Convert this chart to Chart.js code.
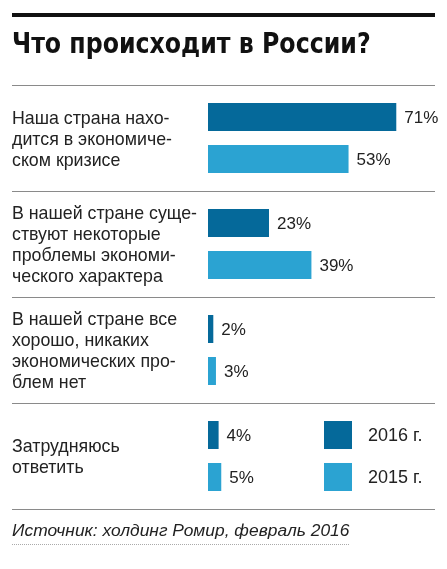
<!DOCTYPE html>
<html>
<head>
<meta charset="utf-8">
<script src="https://cdn.jsdelivr.net/npm/chart.js@4.4.1/dist/chart.umd.min.js"></script>
<style>
  html, body { margin: 0; padding: 0; background: #fff; }
  #wrap { position: relative; width: 447px; height: 569px; overflow: hidden; }
  #topbar { position: absolute; left: 12px; top: 13px; width: 423px; height: 4px; background: #111; }
  #title { position: absolute; left: 12px; top: 27px; font-family: "DejaVu Sans Condensed", "Liberation Sans", sans-serif; font-weight: bold; font-size: 28px; color: #111; white-space: nowrap; transform: scaleX(0.94); transform-origin: 0 0; }
  #source { position: absolute; left: 12px; top: 520px; font-family: "Liberation Sans", Arial, sans-serif; font-style: italic; font-size: 17.4px; color: #222; white-space: nowrap; padding-bottom: 3px; border-bottom: 1px dotted #aaa; }
  canvas { position: absolute; left: 0; top: 0; }
</style>
</head>
<body>
<div id="wrap">
  <canvas id="c" width="447" height="569"></canvas>
  <div id="topbar"></div>
  <div id="title">Что происходит в России?</div>
  <div id="source">Источник: холдинг Ромир, февраль 2016</div>
</div>
<script>
const categories = [
  ["Наша страна нахо-", "дится в экономиче-", "ском кризисе"],
  ["В нашей стране суще-", "ствуют некоторые", "проблемы экономи-", "ческого характера"],
  ["В нашей стране все", "хорошо, никаких", "экономических про-", "блем нет"],
  ["Затрудняюсь", "ответить"]
];
const seriesLabels = ["2016 г.", "2015 г."];
const values2016 = [71, 23, 2, 4];
const values2015 = [53, 39, 3, 5];
const colors = ["#05699a", "#2ba3d2"];

const FONT = '"Liberation Sans", Arial, sans-serif';

const separators = {
  id: 'separators',
  afterDraw(chart) {
    const y = chart.scales.y;
    const ctx = chart.ctx;
    const n = y.ticks.length;
    const half = (y.getPixelForValue(1) - y.getPixelForValue(0)) / 2;
    ctx.save();
    ctx.strokeStyle = '#8a8a8a';
    ctx.lineWidth = 1.2;
    for (let i = 0; i <= n; i++) {
      const py = Math.round((i < n ? y.getPixelForValue(i) - half : y.getPixelForValue(n - 1) + half)) + 0.5;
      ctx.beginPath();
      ctx.moveTo(12, py);
      ctx.lineTo(435, py);
      ctx.stroke();
    }
    ctx.restore();
  }
};

const valueLabels = {
  id: 'valueLabels',
  afterDatasetsDraw(chart) {
    const ctx = chart.ctx;
    ctx.save();
    ctx.font = '17px ' + FONT;
    ctx.fillStyle = '#222';
    ctx.textBaseline = 'middle';
    ctx.textAlign = 'left';
    chart.data.datasets.forEach((ds, di) => {
      chart.getDatasetMeta(di).data.forEach((bar, i) => {
        ctx.fillText(ds.data[i] + '%', bar.x + 8, bar.y + 1);
      });
    });
    ctx.restore();
  }
};

const customLegend = {
  id: 'customLegend',
  afterDatasetsDraw(chart) {
    const ctx = chart.ctx;
    const last = chart.data.labels.length - 1;
    ctx.save();
    ctx.font = '18px ' + FONT;
    ctx.textBaseline = 'middle';
    ctx.textAlign = 'left';
    chart.data.datasets.forEach((ds, di) => {
      const bar = chart.getDatasetMeta(di).data[last];
      const h = bar.height;
      ctx.fillStyle = ds.backgroundColor;
      ctx.fillRect(324, bar.y - h / 2, 28, h);
      ctx.fillStyle = '#222';
      ctx.fillText(ds.label, 368, bar.y + 1);
    });
    ctx.restore();
  }
};

new Chart(document.getElementById('c'), {
  type: 'bar',
  data: {
    labels: categories,
    datasets: [
      { label: seriesLabels[0], data: values2016, backgroundColor: colors[0] },
      { label: seriesLabels[1], data: values2015, backgroundColor: colors[1] }
    ]
  },
  options: {
    indexAxis: 'y',
    responsive: false,
    animation: false,
    devicePixelRatio: 1,
    categoryPercentage: 0.792,
    barPercentage: 0.667,
    layout: { padding: { left: 12, right: 12, top: 85, bottom: 60 } },
    plugins: { legend: { display: false }, tooltip: { enabled: false } },
    scales: {
      x: { display: false, min: 0, max: 85.6 },
      y: {
        grid: { display: false },
        border: { display: false },
        ticks: {
          crossAlign: 'far',
          color: '#222',
          padding: 0,
          labelOffset: 2,
          font: { family: FONT, size: 17.8, lineHeight: 1.18 }
        },
        afterFit(scale) { scale.width = 196; }
      }
    }
  },
  plugins: [separators, valueLabels, customLegend]
});
</script>
</body>
</html>
